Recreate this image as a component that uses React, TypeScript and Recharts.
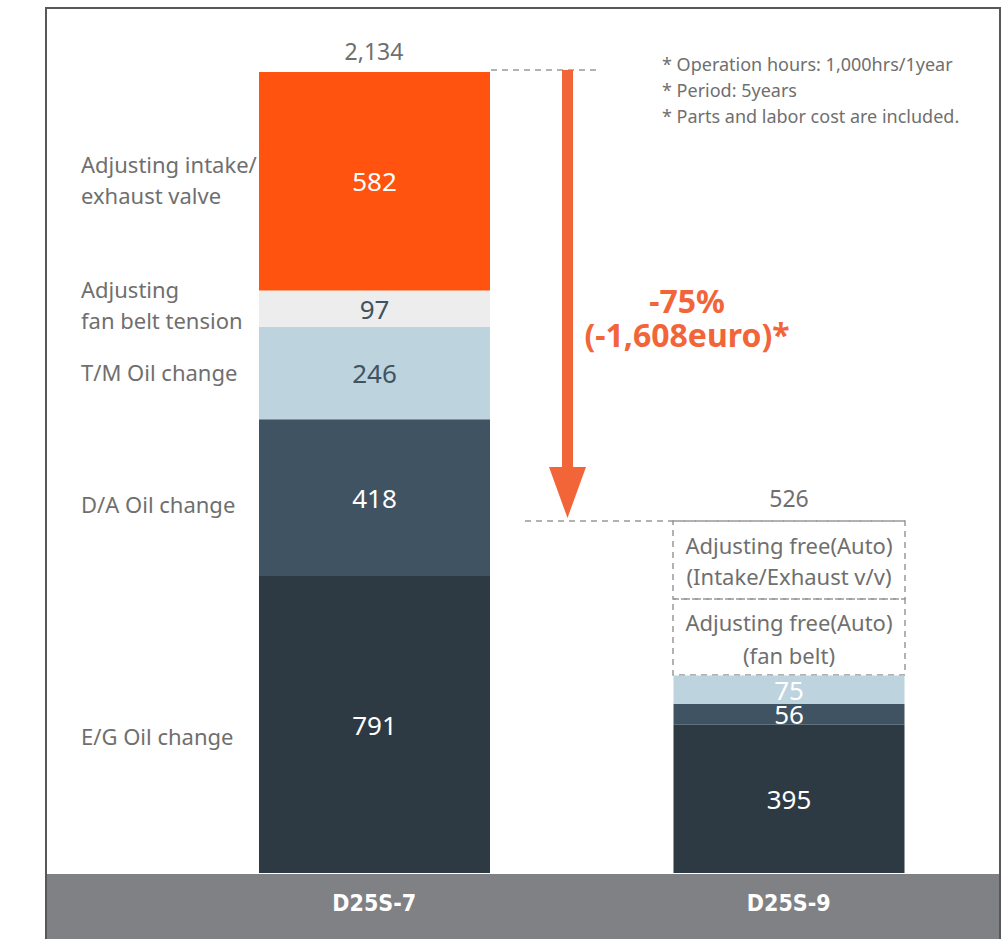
import React from 'react';
import { BarChart, Bar, XAxis, YAxis, LabelList, Customized } from 'recharts';

// models compared
const models = ['D25S-7', 'D25S-9'];

// maintenance cost per item (euro), stacked bottom -> top
const egOilChange = [791, 395];
const daOilChange = [418, 56];
const tmOilChange = [246, 75];
const fanBeltTension = [97, 0];
const intakeExhaustValve = [582, 0];

const totalLabels = ['2,134', '526'];
const savingLabels = ['-75%', '(-1,608euro)*'];
const footnotes = [
  '* Operation hours: 1,000hrs/1year',
  '* Period: 5years',
  '* Parts and labor cost are included.',
];
const autoBoxes = [
  ['Adjusting free(Auto)', '(Intake/Exhaust v/v)'],
  ['Adjusting free(Auto)', '(fan belt)'],
];

const data = models.map((model, i) => ({
  model,
  eg: egOilChange[i],
  da: daOilChange[i],
  tm: tmOilChange[i],
  fan: fanBeltTension[i],
  intake: intakeExhaustValve[i],
}));

const FONT = "'Noto Sans', 'Open Sans', sans-serif";
const GREY_TEXT = '#6f6f6f';
const ORANGE = '#f26539';

const series = [
  { key: 'eg', name: ['E/G Oil change'], fill: '#2d3a44', text: ['#ffffff', '#ffffff'], nameDy: 11 },
  { key: 'da', name: ['D/A Oil change'], fill: '#3f5362', text: ['#ffffff', '#ffffff'], nameDy: 6 },
  { key: 'tm', name: ['T/M Oil change'], fill: '#bdd3de', text: ['#3f5362', '#ffffff'], nameDy: -1 },
  { key: 'fan', name: ['Adjusting', 'fan belt tension'], fill: '#ededed', text: ['#3f5362', '#3f5362'], nameDy: -4 },
  { key: 'intake', name: ['Adjusting intake/', 'exhaust valve'], fill: '#ff530f', text: ['#ffffff', '#ffffff'], nameDy: -2 },
];

const boxOf = (props: any) => {
  const vb = props.viewBox || props;
  const idx = props.index ?? (vb.x < 500 ? 0 : 1);
  return { x: vb.x, y: vb.y, w: vb.width, h: vb.height, idx };
};

const valueLabel = (colors: string[]) => (props: any) => {
  const { x, y, w, h, idx } = boxOf(props);
  if (!props.value) return null;
  return (
    <text x={x + w / 2} y={y + h / 2} textAnchor="middle" dominantBaseline="central"
      fill={colors[idx]} fontSize={26} fontFamily={FONT}>
      {props.value}
    </text>
  );
};

const nameLabel = (lines: string[], dy: number) => (props: any) => {
  const { x, y, h, idx } = boxOf(props);
  if (idx !== 0) return null;
  const cy = y + h / 2 + dy;
  const top = cy - ((lines.length - 1) * 31) / 2;
  return (
    <text x={x - 178} fill={GREY_TEXT} fontSize={22} fontFamily={FONT} dominantBaseline="central">
      {lines.map((l, i) => (
        <tspan key={i} x={x - 178} y={top + i * 31}>{l}</tspan>
      ))}
    </text>
  );
};

const ModelTick = (props: any) => {
  const { x, payload } = props;
  return (
    <text x={x} y={903} textAnchor="middle" dominantBaseline="central" fill="#ffffff"
      fontSize={23} fontWeight="bold" fontFamily="'Liberation Sans Narrow', 'DejaVu Sans Condensed', sans-serif">
      {payload.value}
    </text>
  );
};

const Annotations = () => (
  <g>
    {/* totals */}
    <text x={374} y={51} textAnchor="middle" dominantBaseline="central" fill={GREY_TEXT} fontSize={23} fontFamily={FONT}>
      {totalLabels[0]}
    </text>
    <text x={789} y={498} textAnchor="middle" dominantBaseline="central" fill={GREY_TEXT} fontSize={23} fontFamily={FONT}>
      {totalLabels[1]}
    </text>

    {/* dashed guide lines */}
    <line x1={491} y1={70} x2={598} y2={70} stroke="#999" strokeWidth={1.5} strokeDasharray="6 5" />
    <line x1={525} y1={521} x2={905} y2={521} stroke="#999" strokeWidth={1.5} strokeDasharray="6 5" />

    {/* arrow */}
    <rect x={562} y={70} width={11} height={398} fill={ORANGE} />
    <polygon points="549,467 586,467 567.5,518" fill={ORANGE} />
    <text x={687} textAnchor="middle" dominantBaseline="central" fill={ORANGE} fontSize={32} fontWeight="bold" fontFamily={FONT}>
      {savingLabels.map((t, i) => (
        <tspan key={t} x={687} y={300 + i * 34}>{t}</tspan>
      ))}
    </text>

    {/* footnotes */}
    <text x={662} dominantBaseline="central" fill={GREY_TEXT} fontSize={18} fontFamily={FONT}>
      {footnotes.map((t, i) => (
        <tspan key={t} x={662} y={64 + i * 26}>{t}</tspan>
      ))}
    </text>

    {/* dashed "adjusting free" boxes */}
    <rect x={673} y={521} width={232} height={78} fill="none" stroke="#999" strokeWidth={1.5} strokeDasharray="6 5" />
    <rect x={673} y={599} width={232} height={76} fill="none" stroke="#999" strokeWidth={1.5} strokeDasharray="6 5" />
    {autoBoxes.map((lines, b) => (
      <text key={b} x={789} textAnchor="middle" dominantBaseline="central" fill={GREY_TEXT} fontSize={22} fontFamily={FONT}>
        {lines.map((l, i) => (
          <tspan key={i} x={789} y={(b === 0 ? 545 : 622) + i * (b === 0 ? 31 : 33)}>{l}</tspan>
        ))}
      </text>
    ))}
  </g>
);

export default function App() {
  return (
    <div style={{ position: 'absolute', left: 0, top: 0, width: 1006, height: 939, background: '#fff', overflow: 'hidden' }}>
      {/* frame and model band */}
      <div style={{ position: 'absolute', left: 45, top: 7, width: 956, height: 932, border: '2px solid #58585a', boxSizing: 'border-box' }} />
      <div style={{ position: 'absolute', left: 47, top: 874, width: 952, height: 65, background: '#808184' }} />
      <div style={{ position: 'absolute', left: 0, top: 0 }}>
        <BarChart width={1006} height={939} data={data} margin={{ top: 72, right: 10, bottom: 0, left: 167 }} barSize={231}>
          <XAxis dataKey="model" height={66} axisLine={false} tickLine={false} tick={<ModelTick />} interval={0} />
          <YAxis hide domain={[0, 2134]} />
          {series.map((s) => (
            <Bar key={s.key} dataKey={s.key} stackId="cost" fill={s.fill} isAnimationActive={false}>
              <LabelList dataKey={s.key} content={valueLabel(s.text)} />
              <LabelList dataKey={s.key} content={nameLabel(s.name, s.nameDy)} />
            </Bar>
          ))}
          <Customized component={Annotations} />
        </BarChart>
      </div>
    </div>
  );
}
